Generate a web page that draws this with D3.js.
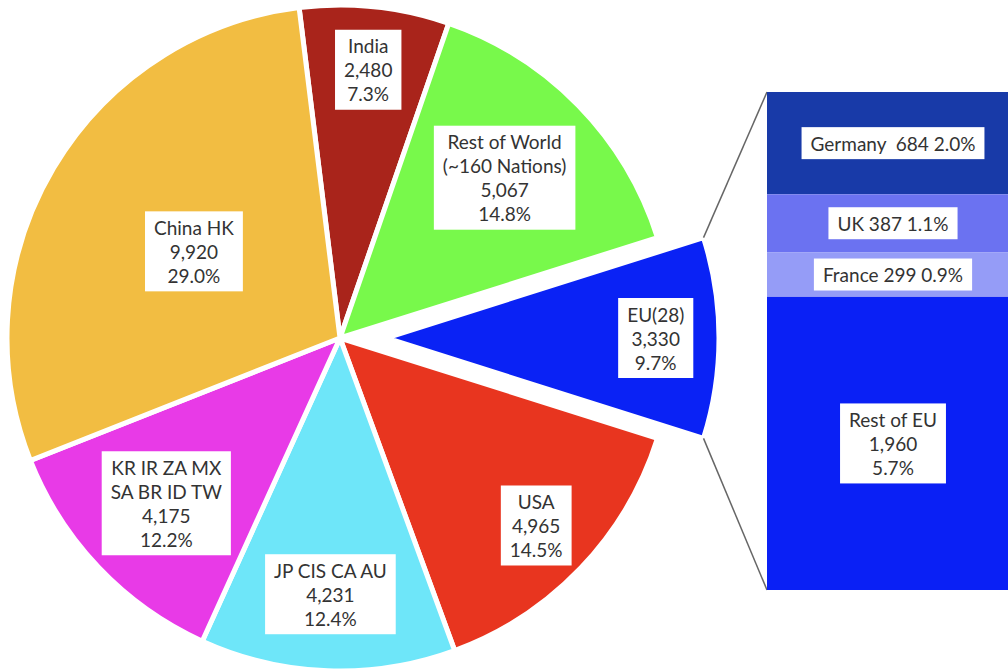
<!DOCTYPE html>
<html>
<head>
<meta charset="utf-8">
<script src="https://cdn.jsdelivr.net/npm/d3@7"></script>
<style>
  html, body { margin: 0; padding: 0; background: #fff; }
  svg { display: block; }
  text { font-family: Lato, "Open Sans", sans-serif; font-size: 19px; fill: #333; white-space: pre; }
</style>
</head>
<body>
<svg id="chart" width="1008" height="672"></svg>
<script>
// CO2 emissions by nation / group (Mt), pie order clockwise from top
const regions = ["India", "Rest of World", "EU(28)", "USA", "JP CIS CA AU", "KR IR ZA MX SA BR ID TW", "China HK"];
const regionLines = [["India"], ["Rest of World", "(~160 Nations)"], ["EU(28)"], ["USA"], ["JP CIS CA AU"], ["KR IR ZA MX", "SA BR ID TW"], ["China HK"]];
const emissions = [2480, 5067, 3330, 4965, 4231, 4175, 9920];
const regionColors = ["#a9241b", "#78f94b", "#0a22f5", "#e8351f", "#6ee6f9", "#e83ae7", "#f2bd42"];

// EU(28) breakdown, stacked top to bottom
const euMembers = ["Germany", "UK", "France", "Rest of EU"];
const euEmissions = [684, 387, 299, 1960];
const euColors = ["#183aa8", "#6b72f1", "#959cf7", "#0a20f5"];

// layout
const cx = 340, cy = 338, R = 333, explode = 46;
const labelRadius = { "India": 0.81, "Rest of World": 0.69, "EU(28)": 0.81, "USA": 0.815, "JP CIS CA AU": 0.77, "KR IR ZA MX SA BR ID TW": 0.72, "China HK": 0.51 };
const boxX0 = 767, boxX1 = 1019, boxY0 = 92, boxY1 = 590;
const lineH = 24;

const svg = d3.select("#chart");
const total = d3.sum(emissions);
const fmtNum = d3.format(",");
const fmtPct = d3.format(".1%");

// rotate so the EU slice points straight right
const euIdx = regions.indexOf("EU(28)");
const beforeEU = d3.sum(emissions.slice(0, euIdx)) + emissions[euIdx] / 2;
const start = Math.PI / 2 - beforeEU / total * 2 * Math.PI;

const pie = d3.pie().sort(null).startAngle(start).endAngle(start + 2 * Math.PI);
const arcs = pie(emissions);
const arc = d3.arc().innerRadius(0).outerRadius(R);

function labelBox(g, x, y, lines) {
  const grp = g.append("g");
  const rect = grp.append("rect").attr("fill", "#fff");
  const t = grp.append("text").attr("text-anchor", "middle");
  const n = lines.length;
  lines.forEach((s, i) => {
    t.append("tspan").attr("x", x).attr("y", y + (i - (n - 1) / 2) * lineH)
      .attr("dominant-baseline", "central").text(s);
  });
  const w = d3.max(t.selectAll("tspan").nodes(), d => d.getComputedTextLength());
  const h = n * lineH + 8;
  rect.attr("x", x - w / 2 - 9).attr("y", y - h / 2).attr("width", w + 18).attr("height", h);
}

const pieG = svg.append("g").attr("transform", `translate(${cx},${cy})`);

arcs.forEach((a, i) => {
  const mid = (a.startAngle + a.endAngle) / 2;
  const off = i === euIdx ? explode : 0;
  const g = pieG.append("g")
    .attr("transform", `translate(${off * Math.sin(mid)},${-off * Math.cos(mid)})`);
  g.append("path").attr("d", arc(a)).attr("fill", regionColors[i])
    .attr("stroke", "#fff").attr("stroke-width", 5).attr("stroke-linejoin", "miter");
});

// connector lines from the exploded EU slice to the breakdown column
const euArc = arcs[euIdx];
const euOff = explode;
const p1 = [cx + euOff + R * Math.sin(euArc.startAngle), cy - R * Math.cos(euArc.startAngle)];
const p2 = [cx + euOff + R * Math.sin(euArc.endAngle), cy - R * Math.cos(euArc.endAngle)];
svg.append("line").attr("x1", p1[0]).attr("y1", p1[1]).attr("x2", boxX0).attr("y2", boxY0)
  .attr("stroke", "#666").attr("stroke-width", 1.5);
svg.append("line").attr("x1", p2[0]).attr("y1", p2[1]).attr("x2", boxX0).attr("y2", boxY1)
  .attr("stroke", "#666").attr("stroke-width", 1.5);

// EU breakdown column
const y = d3.scaleLinear().domain([0, d3.sum(euEmissions)]).range([boxY0, boxY1]);
let acc = 0;
const euStack = euEmissions.map((v, i) => { const s = { name: euMembers[i], v, y0: acc, y1: acc + v }; acc += v; return s; });
svg.append("g").selectAll("rect").data(euStack).join("rect")
  .attr("x", boxX0).attr("width", boxX1 - boxX0)
  .attr("y", d => y(d.y0)).attr("height", d => y(d.y1) - y(d.y0))
  .attr("fill", (d, i) => euColors[i]);

// slice labels
arcs.forEach((a, i) => {
  const mid = (a.startAngle + a.endAngle) / 2;
  const r = R * labelRadius[regions[i]] + (i === euIdx ? explode : 0);
  const lx = cx + r * Math.sin(mid), ly = cy - r * Math.cos(mid);
  labelBox(svg, lx, ly, [...regionLines[i], fmtNum(emissions[i]), fmtPct(emissions[i] / total)]);
});

// breakdown labels
const colMid = (boxX0 + boxX1) / 2;
euStack.forEach((d, i) => {
  const ly = (y(d.y0) + y(d.y1)) / 2;
  const lines = d.name === "Rest of EU"
    ? [d.name, fmtNum(d.v), fmtPct(d.v / total)]
    : [(d.name === "Germany" ? d.name + "  " : d.name + " ") + fmtNum(d.v) + " " + fmtPct(d.v / total)];
  labelBox(svg, colMid, ly, lines);
});
</script>
</body>
</html>
